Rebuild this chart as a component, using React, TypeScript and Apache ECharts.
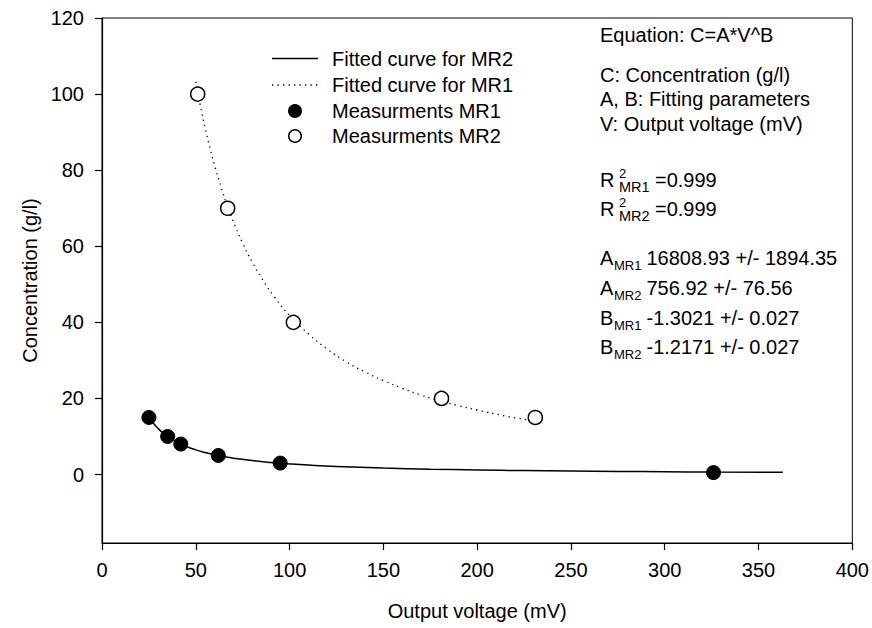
import React, { useEffect, useRef } from "react";
import * as echarts from "echarts";

// ---- data ----
const mr1MeasX = [25, 35, 42, 62, 95, 326];
const mr1MeasY = [15, 10, 8, 5, 3, 0.5];

const mr2MeasX = [51, 67, 102, 181, 231];
const mr2MeasY = [100, 70, 40, 20, 15];

// solid fitted curve (through filled points)
const solidCurveX = [25, 27.5, 30, 32.5, 35, 40, 45, 50, 55, 60, 65, 70, 80, 90, 100, 110, 125, 150, 175, 200, 225, 250, 275, 300, 325, 363];
const solidCurveY = [15.05, 13.41, 12.06, 10.94, 9.99, 8.5, 7.36, 6.48, 5.77, 5.19, 4.71, 4.3, 3.66, 3.17, 2.79, 2.48, 2.12, 1.7, 1.41, 1.2, 1.04, 0.91, 0.81, 0.73, 0.66, 0.58];

// dotted fitted curve (through open points)
const dottedCurveX = [50, 52.5, 55, 57.5, 60, 63.5, 67, 71, 75, 80, 85, 92, 100, 110, 120, 130, 140, 150, 160, 170, 180, 190, 200, 215, 230];
const dottedCurveY = [103.2, 96.8, 91.1, 85.9, 81.3, 75.6, 70.4, 65.3, 60.8, 55.9, 51.7, 46.6, 41.8, 37.0, 33.0, 29.7, 27.0, 24.7, 22.7, 20.9, 19.4, 18.1, 16.96, 15.4, 14.14];

const yTickValues = [0, 20, 40, 60, 80, 100, 120];

const legendNames = [
  "Fitted curve for MR2",
  "Fitted curve for MR1",
  "Measurments MR1",
  "Measurments MR2",
];

const infoLines = [
  "Equation: C=A*V^B",
  "C: Concentration (g/l)",
  "A, B: Fitting parameters",
  "V: Output voltage (mV)",
];
const rSquaredSubs = ["MR1", "MR2"];
const rSquaredValues = ["=0.999", "=0.999"];
const paramLetters = ["A", "A", "B", "B"];
const paramSubs = ["MR1", "MR2", "MR1", "MR2"];
const paramValues = ["16808.93 +/- 1894.35", "756.92 +/- 76.56", "-1.3021 +/- 0.027", "-1.2171 +/- 0.027"];

const FONT = "'Liberation Sans', Arial, Helvetica, sans-serif";
const FS = 20;
const SUB_FS = 13;
const DOT_DASH = [1.3, 4.2];

function zip(xs: number[], ys: number[]) {
  return xs.map((x, i) => [x, ys[i]]);
}

function txt(x: number, y: number, text: string, size = FS) {
  return {
    type: "text",
    x,
    y,
    silent: true,
    style: {
      text,
      fontSize: size,
      fontFamily: FONT,
      fill: "#000",
      align: "left",
      verticalAlign: "middle",
    },
  };
}

export default function App() {
  const ref = useRef<HTMLDivElement>(null);

  useEffect(() => {
    if (!ref.current) return;
    const chart = echarts.init(ref.current, null, { renderer: "svg" });

    const textX = 600;
    const infoY = [35, 75, 99, 124];
    const rY = [180, 209];
    const pY = [258, 288, 318, 347];

    const graphics: any[] = [];
    infoLines.forEach((t, i) => graphics.push(txt(textX, infoY[i], t)));
    rSquaredSubs.forEach((s, i) => {
      graphics.push(txt(textX, rY[i], "R"));
      graphics.push(txt(textX + 19, rY[i] - 7, "2", SUB_FS));
      graphics.push(txt(textX + 19, rY[i] + 7, s, 14.5));
      graphics.push(txt(textX + 55, rY[i], rSquaredValues[i]));
    });
    paramLetters.forEach((l, i) => {
      graphics.push(txt(textX, pY[i], l));
      graphics.push(txt(textX + 14, pY[i] + 7, paramSubs[i], SUB_FS));
      graphics.push(txt(textX + 46.5, pY[i], paramValues[i]));
    });

    // legend (drawn as graphic to match line-only / symbol-only keys)
    const legX1 = 272;
    const legX2 = 318;
    const legTextX = 332;
    const legY = [58.5, 85, 111, 136];
    graphics.push({
      type: "line",
      silent: true,
      shape: { x1: legX1, y1: legY[0], x2: legX2, y2: legY[0] },
      style: { stroke: "#000", lineWidth: 1.5 },
    });
    graphics.push({
      type: "line",
      silent: true,
      shape: { x1: legX1, y1: legY[1], x2: legX2, y2: legY[1] },
      style: { stroke: "#000", lineWidth: 1.3, lineDash: DOT_DASH },
    });
    graphics.push({
      type: "circle",
      silent: true,
      shape: { cx: (legX1 + legX2) / 2, cy: legY[2], r: 7 },
      style: { fill: "#000" },
    });
    graphics.push({
      type: "circle",
      silent: true,
      shape: { cx: (legX1 + legX2) / 2, cy: legY[3], r: 6.3 },
      style: { fill: "#fff", stroke: "#000", lineWidth: 1.5 },
    });
    legendNames.forEach((n, i) => graphics.push(txt(legTextX, legY[i], n)));

    const axisCommon = {
      axisLine: { show: true, onZero: false, lineStyle: { color: "#000", width: 1.2 } },
      axisTick: { show: true, inside: false, length: 7, lineStyle: { color: "#000", width: 1.2 } },
      splitLine: { show: false },
      nameLocation: "middle" as const,
      nameTextStyle: { fontSize: FS, fontFamily: FONT, color: "#000" },
    };

    chart.setOption({
      animation: false,
      backgroundColor: "#fff",
      textStyle: { fontFamily: FONT },
      grid: {
        left: 102,
        top: 18,
        right: 19,
        bottom: 85,
        show: true,
        borderColor: "#000",
        borderWidth: 1,
        backgroundColor: "transparent",
      },
      xAxis: {
        type: "value",
        min: 0,
        max: 400,
        interval: 50,
        name: "Output voltage (mV)",
        nameGap: 58,
        ...axisCommon,
        axisLabel: { fontSize: FS, fontFamily: FONT, color: "#000", margin: 17 },
      },
      yAxis: {
        type: "value",
        min: -18,
        max: 120,
        name: "Concentration (g/l)",
        nameGap: 62,
        ...axisCommon,
        axisTick: { ...axisCommon.axisTick, customValues: yTickValues },
        axisLabel: {
          fontSize: FS,
          fontFamily: FONT,
          color: "#000",
          margin: 18,
          customValues: yTickValues,
        },
      },
      series: [
        {
          name: legendNames[0],
          type: "line",
          data: zip(solidCurveX, solidCurveY),
          symbol: "none",
          smooth: true,
          lineStyle: { color: "#000", width: 1.5, type: "solid" },
          itemStyle: { color: "#000" },
          z: 2,
        },
        {
          name: legendNames[1],
          type: "line",
          data: zip(dottedCurveX, dottedCurveY),
          symbol: "none",
          smooth: true,
          lineStyle: { color: "#000", width: 1.3, type: DOT_DASH },
          itemStyle: { color: "#000" },
          z: 2,
        },
        {
          name: legendNames[2],
          type: "scatter",
          data: zip(mr1MeasX, mr1MeasY),
          symbol: "circle",
          symbolSize: 14,
          itemStyle: { color: "#000", borderColor: "#000", borderWidth: 1, opacity: 1 },
          z: 3,
        },
        {
          name: legendNames[3],
          type: "scatter",
          data: zip(mr2MeasX, mr2MeasY),
          symbol: "circle",
          symbolSize: 14,
          itemStyle: { color: "#fff", borderColor: "#000", borderWidth: 1.5, opacity: 1 },
          z: 3,
        },
      ],
      graphic: graphics,
    });

    return () => chart.dispose();
  }, []);

  return <div ref={ref} style={{ width: 872, height: 628, position: "absolute", left: 0, top: 0 }} />;
}
